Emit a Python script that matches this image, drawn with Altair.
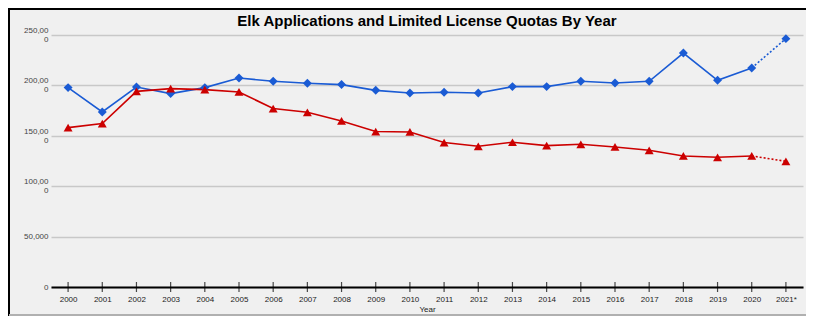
import altair as alt
import pandas as pd

years = ["2000", "2001", "2002", "2003", "2004", "2005", "2006", "2007", "2008", "2009",
         "2010", "2011", "2012", "2013", "2014", "2015", "2016", "2017", "2018", "2019",
         "2020", "2021*"]
applications = [197800, 173600, 198400, 191900, 197800, 207300, 204100, 202100, 200800, 195100,
                192500, 193200, 192500, 198800, 198800, 204100, 202400, 204100, 232100, 205100,
                217300, 246400]
quotas = [158100, 162100, 194100, 196800, 195800, 193500, 177000, 173300, 164700, 154200,
          153800, 143300, 139600, 143600, 140300, 141600, 138900, 135600, 130000, 128700,
          130000, 124700]
series_names = ["Applications", "Limited License Quotas"]
series_colors = ["#1a5bd4", "#cc0000"]
series_shapes = ["diamond", "triangle-up"]
y_ticks = [0, 50000, 100000, 150000, 200000, 250000]
title_text = "Elk Applications and Limited License Quotas By Year"

rows = []
for i, y in enumerate(years):
    rows.append({"year": y, "value": applications[i], "series": series_names[0], "idx": i})
    rows.append({"year": y, "value": quotas[i], "series": series_names[1], "idx": i})
df = pd.DataFrame(rows)
last = len(years) - 1

FONT = "Liberation Sans"

x_enc = alt.X("year:N", sort=years, title="Year",
              scale=alt.Scale(type="point", padding=0.5),
              axis=alt.Axis(labelAngle=0, labelFontSize=8, labelFont=FONT, labelColor="#222222",
                            ticks=False, labelPadding=8, domainColor="#000000", domainWidth=2,
                            titleFontSize=8, titleFont=FONT, titleFontWeight="normal",
                            titleColor="#222222", titlePadding=2, grid=False))
y_enc = alt.Y("value:Q", title=None,
              scale=alt.Scale(domain=[0, 250000], nice=False),
              axis=alt.Axis(values=y_ticks, domain=False, ticks=False, labelPadding=3,
                            labelFontSize=8, labelFont=FONT, labelColor="#444444",
                            gridColor="#c8c8c8", gridWidth=1.5, labelLineHeight=9,
                            labelOffset={"condition": {"test": "datum.value >= 100000", "value": -4.5},
                                         "value": 0},
                            labelExpr="datum.value >= 100000 ? [slice(format(datum.value, ','), 0, 6), '0'] : datum.label"))
color_enc = alt.Color("series:N", scale=alt.Scale(domain=series_names, range=series_colors), legend=None)
shape_enc = alt.Shape("series:N", scale=alt.Scale(domain=series_names, range=series_shapes), legend=None)

base = alt.Chart(df)

solid = base.transform_filter(alt.datum.idx < last).mark_line(strokeWidth=1.6).encode(
    x=x_enc, y=y_enc, color=color_enc, detail="series:N")
dotted = base.transform_filter(alt.datum.idx >= last - 1).mark_line(strokeWidth=1.6, strokeDash=[2, 2]).encode(
    x=x_enc, y=y_enc, color=color_enc, detail="series:N")
points = base.mark_point(filled=True, opacity=1, size=80).encode(
    x=x_enc, y=y_enc, color=color_enc, shape=shape_enc)
ticks = base.transform_filter(alt.datum.series == series_names[0]).mark_tick(
    orient="vertical", color="#000000", thickness=1.2, size=10).encode(
    x=x_enc, y=alt.value(252))

left_border = base.mark_rule(color="#000000", strokeWidth=1.5).encode(
    x=alt.value(-42), y=alt.value(-27), y2=alt.value(281))
top_border = base.mark_rule(color="#000000", strokeWidth=1.5).encode(
    x=alt.value(-42), x2=alt.value(755), y=alt.value(-26.5))
bottom_border = base.mark_rule(color="#b0b0b0", strokeWidth=1.5).encode(
    x=alt.value(-42), x2=alt.value(755), y=alt.value(280))

title = alt.Chart(pd.DataFrame({"t": [title_text]})).mark_text(
    font=FONT, fontSize=15, fontWeight="bold", color="#000000",
    align="center", baseline="alphabetic").encode(
    text="t:N", x=alt.value(376), y=alt.value(-9))

chart = alt.layer(left_border, top_border, bottom_border, solid, dotted, ticks, points, title).properties(
    width=752, height=252,
    autosize=alt.AutoSizeParams(type="none"),
    padding={"left": 43, "top": 27, "right": 3, "bottom": 29},
    background="#f0f0f0",
).configure_view(stroke=None)

chart.save("out.html", embed_options={"renderer": "svg", "actions": False})
